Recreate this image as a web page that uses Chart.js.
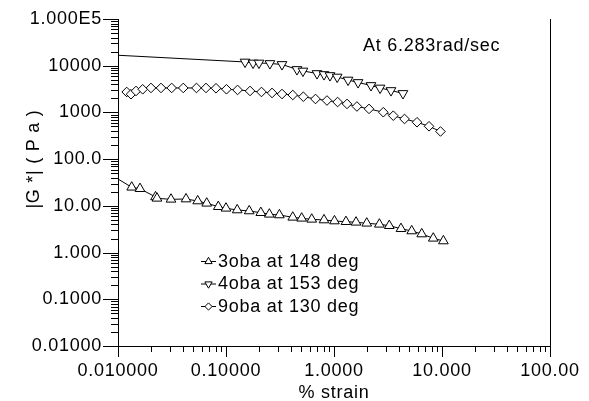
<!DOCTYPE html>
<html>
<head>
<meta charset="utf-8">
<script src="https://cdn.jsdelivr.net/npm/chart.js@4/dist/chart.umd.min.js"></script>
<style>
  html, body { margin: 0; padding: 0; background: #fff; overflow: hidden; }
  #c { display: block; }
</style>
</head>
<body>
<canvas id="c" width="589" height="401"></canvas>
<script>
// |G*| strain sweeps at 6.283 rad/s
const strain3 = [0.01339, 0.01598, 0.02224, 0.02297, 0.03095, 0.04263, 0.0547, 0.0663, 0.0849, 0.100,
                 0.127, 0.164, 0.210, 0.252, 0.312, 0.415, 0.502, 0.622, 0.808, 1.01,
                 1.29, 1.60, 2.01, 2.63, 3.25, 4.17, 5.24, 6.49, 8.30, 10.3];
const g3 = [25.0, 23.3, 15.5, 14.5, 13.8, 14.0, 12.7, 11.35, 9.60, 8.87,
            8.16, 7.77, 7.14, 6.60, 6.38, 5.69, 5.42, 5.15, 4.98, 4.74,
            4.58, 4.45, 4.24, 4.03, 3.76, 3.24, 2.90, 2.50, 2.02, 1.77];

const strain4 = [0.150, 0.178, 0.202, 0.255, 0.330, 0.454, 0.516, 0.696, 0.808, 0.918,
                 1.07, 1.35, 1.67, 2.20, 2.67, 3.37, 4.35];
const g4 = [12030, 11450, 11450, 11170, 10640, 8320, 7720, 6820, 6490, 6180,
            5740, 4950, 4380, 3780, 3340, 2950, 2550];

const strain9 = [0.01204, 0.01319, 0.01468, 0.01693, 0.0202, 0.0250, 0.0314, 0.0402, 0.0533, 0.0653,
                 0.0808, 0.101, 0.128, 0.167, 0.213, 0.267, 0.330, 0.415, 0.520, 0.674,
                 0.861, 1.08, 1.32, 1.63, 2.11, 2.86, 3.54, 4.50, 5.87, 7.58, 9.68];
const g9 = [2740, 2450, 2880, 3130, 3340, 3340, 3340, 3340, 3340, 3340,
            3290, 3130, 3030, 2880, 2740, 2610, 2480, 2360, 2170, 1940,
            1800, 1670, 1520, 1340, 1190, 1010, 852, 724, 616, 505, 391];

// fitted curves start ahead of the first measured point
const fitStart3 = [0.01, 37.6];
const fitStart4 = [0.01, 16740];
const fitStart9 = [0.0109, 2780];

const seriesNames = ['3oba at 148 deg', '4oba at 153 deg', '9oba at 130 deg'];
const xTickValues = [0.01, 0.1, 1, 10, 100];
const xTickLabels = ['0.010000', '0.10000', '1.0000', '10.000', '100.00'];
const yTickValues = [0.01, 0.1, 1, 10, 100, 1000, 10000, 100000];
const yTickLabels = ['0.01000', '0.1000', '1.000', '10.00', '100.0', '1000', '10000', '1.000E5'];
const xTitle = '% strain';
const yTitle = '|G *| ( P a )';
const note = 'At 6.283rad/sec';

const FONT = '"Liberation Sans", Arial, sans-serif';
const SPACING = '0.75px';

const pts = (xs, ys) => xs.map((x, i) => ({ x: x, y: ys[i] }));
const withStart = (s, xs, ys) => [{ x: s[0], y: s[1] }].concat(pts(xs, ys));

const markerBase = {
  showLine: false,
  borderColor: '#000',
  backgroundColor: '#fff',
  pointBorderColor: '#000',
  pointBackgroundColor: '#fff',
  pointBorderWidth: 1,
  pointHoverRadius: 0,
  order: 1
};
const lineBase = {
  showLine: true,
  borderColor: '#000',
  borderWidth: 1,
  pointRadius: 0,
  tension: 0,
  fill: false,
  order: 2
};

const datasets = [
  Object.assign({ label: seriesNames[0], data: pts(strain3, g3), pointStyle: 'triangle', pointRadius: 5.6, pointRotation: 0 }, markerBase),
  Object.assign({ label: seriesNames[1], data: pts(strain4, g4), pointStyle: 'triangle', pointRadius: 5.6, pointRotation: 180 }, markerBase),
  Object.assign({ label: seriesNames[2], data: pts(strain9, g9), pointStyle: 'rectRot', pointRadius: 4.8, pointRotation: 0 }, markerBase),
  Object.assign({ label: seriesNames[0] + ' fit', data: withStart(fitStart3, strain3, g3) }, lineBase),
  Object.assign({ label: seriesNames[1] + ' fit', data: withStart(fitStart4, strain4, g4) }, lineBase),
  Object.assign({ label: seriesNames[2] + ' fit', data: withStart(fitStart9, strain9, g9) }, lineBase)
];

function setSpacing(chart) {
  if ('letterSpacing' in chart.ctx) chart.ctx.letterSpacing = SPACING;
}

function symbolPath(ctx, style, x, y, r, rotationDeg) {
  ctx.beginPath();
  if (style === 'rectRot') {
    ctx.moveTo(x, y - r); ctx.lineTo(x + r, y); ctx.lineTo(x, y + r); ctx.lineTo(x - r, y);
  } else {
    const rad = rotationDeg * Math.PI / 180;
    for (let k = 0; k < 3; k++) {
      const a = rad + k * 2 * Math.PI / 3;
      const px = x + Math.sin(a) * r, py = y - Math.cos(a) * r;
      if (k === 0) ctx.moveTo(px, py); else ctx.lineTo(px, py);
    }
  }
  ctx.closePath();
}

const decor = {
  id: 'decor',
  beforeUpdate: setSpacing,
  beforeDraw: setSpacing,
  afterDraw(chart) {
    const ctx = chart.ctx;
    const xs = chart.scales.x, ys = chart.scales.y;
    const area = chart.chartArea;
    ctx.save();
    ctx.strokeStyle = '#000';
    ctx.lineWidth = 1;
    ctx.beginPath();
    // x axis tick marks (major and minor)
    xTickValues.forEach((v, i) => {
      const px = Math.round(xs.getPixelForValue(v)) + 0.5;
      ctx.moveTo(px, area.bottom); ctx.lineTo(px, area.bottom + 11);
      if (i < xTickValues.length - 1) {
        for (let k = 2; k <= 9; k++) {
          const mx = Math.round(xs.getPixelForValue(v * k)) + 0.5;
          ctx.moveTo(mx, area.bottom); ctx.lineTo(mx, area.bottom + 6);
        }
      }
    });
    // y axis tick marks (major and minor)
    yTickValues.forEach((v, i) => {
      const py = Math.round(ys.getPixelForValue(v)) + 0.5;
      ctx.moveTo(area.left, py); ctx.lineTo(area.left - 15, py);
      if (i < yTickValues.length - 1) {
        for (let k = 2; k <= 9; k++) {
          const my = Math.round(ys.getPixelForValue(v * k)) + 0.5;
          ctx.moveTo(area.left, my); ctx.lineTo(area.left - 7, my);
        }
      }
    });
    // right-hand frame line
    const rx = Math.round(area.right) + 0.5;
    ctx.moveTo(rx, area.top); ctx.lineTo(rx, area.bottom + 2);
    ctx.stroke();

    ctx.font = '18px ' + FONT;
    ctx.fillStyle = '#000';
    ctx.textBaseline = 'middle';

    // y axis title, rotated
    ctx.save();
    ctx.translate(34, 159);
    ctx.rotate(-Math.PI / 2);
    ctx.textAlign = 'center';
    ctx.fillText(yTitle, 0, 0);
    ctx.restore();

    // legend
    ctx.textAlign = 'left';
    for (let i = 0; i < 3; i++) {
      const ds = chart.data.datasets[i];
      const ly = 261 + i * 22.5;
      ctx.beginPath();
      ctx.moveTo(201, ly + 0.5); ctx.lineTo(216, ly + 0.5);
      ctx.stroke();
      symbolPath(ctx, ds.pointStyle, 208.5, ly + 0.5, ds.pointStyle === 'rectRot' ? 3.6 : 4.2, ds.pointRotation);
      ctx.fillStyle = '#fff'; ctx.fill();
      ctx.stroke();
      ctx.fillStyle = '#000';
      ctx.fillText(ds.label, 218, ly + 1);
    }
    // condition note
    ctx.fillText(note, 363, 46);
    ctx.restore();
  }
};

const tickFont = { family: FONT, size: 18 };

new Chart(document.getElementById('c'), {
  type: 'scatter',
  data: { datasets: datasets },
  options: {
    responsive: false,
    maintainAspectRatio: false,
    devicePixelRatio: 1,
    animation: false,
    events: [],
    layout: { padding: { left: 0, right: 39, top: 19, bottom: 0 } },
    plugins: { legend: { display: false }, tooltip: { enabled: false } },
    scales: {
      x: {
        type: 'logarithmic',
        position: 'bottom',
        min: 0.01, max: 100,
        grid: { display: false, drawTicks: false },
        border: { display: true, color: '#000', width: 1 },
        afterBuildTicks: s => { s.ticks = xTickValues.map(v => ({ value: v, major: true })); },
        ticks: {
          color: '#000', font: tickFont, padding: 14, maxRotation: 0, autoSkip: false,
          callback: (v, i) => xTickLabels[i]
        },
        title: { display: true, text: xTitle, color: '#000', font: tickFont, padding: { top: 0, bottom: -3 } },
        afterFit: s => { s.height = 55; s.paddingLeft = 0; s.paddingRight = 0; }
      },
      y: {
        type: 'logarithmic',
        position: 'left',
        min: 0.01, max: 100000,
        grid: { display: false, drawTicks: false },
        border: { display: true, color: '#000', width: 1 },
        afterBuildTicks: s => { s.ticks = yTickValues.map(v => ({ value: v, major: true })); },
        ticks: {
          color: '#000', font: tickFont, padding: 16, autoSkip: false,
          callback: (v, i) => yTickLabels[i]
        },
        afterFit: s => { s.width = 118; s.paddingTop = 0; s.paddingBottom = 0; }
      }
    }
  },
  plugins: [decor]
});
</script>
</body>
</html>
